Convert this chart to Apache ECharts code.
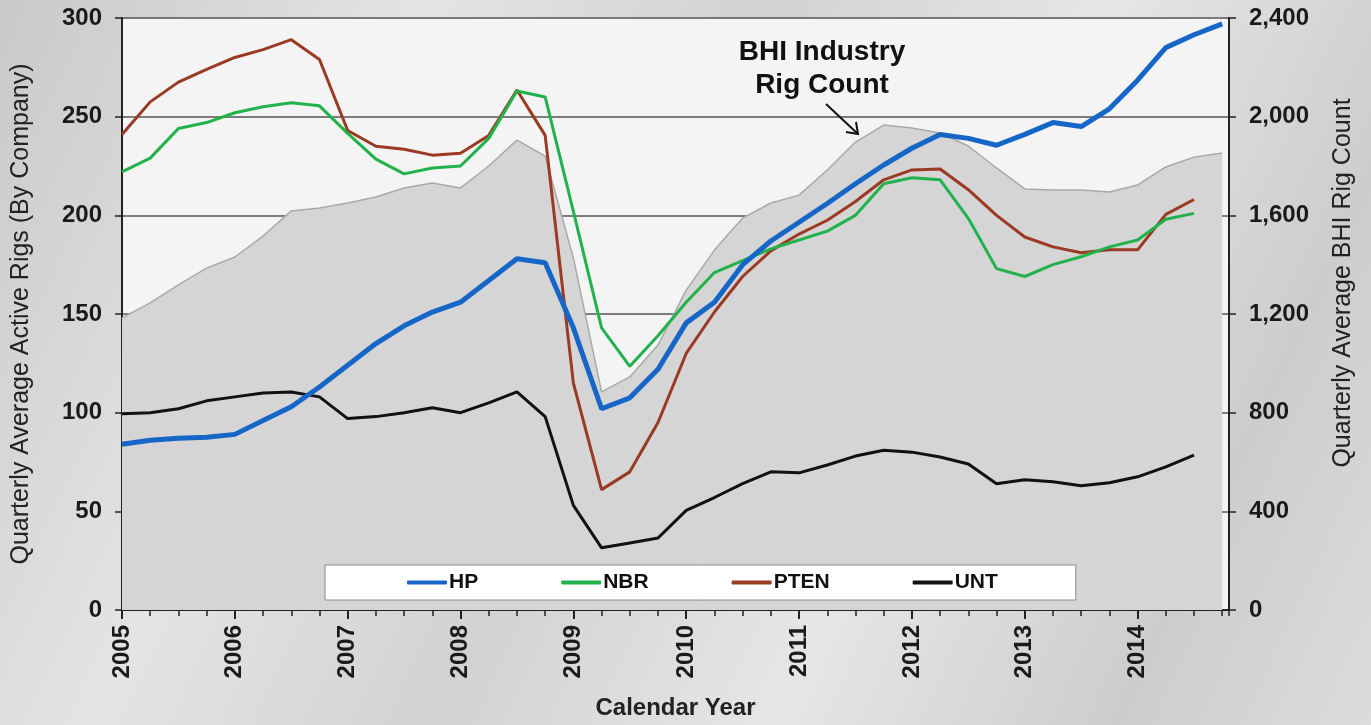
<!DOCTYPE html>
<html>
<head>
<meta charset="utf-8">
<script src="https://cdn.jsdelivr.net/npm/echarts@6/dist/echarts.min.js"></script>
<style>
  html, body { margin: 0; padding: 0; }
  body {
    width: 1371px; height: 725px; overflow: hidden;
    background: linear-gradient(115deg, #c9c9c9 0%, #e4e4e4 25%, #d2d2d2 45%, #e6e6e6 65%, #cdcdcd 85%, #dcdcdc 100%);
  }
  #chart { width: 1371px; height: 725px; }
</style>
</head>
<body>
<div id="chart"></div>
<script>
// quarterly points, 2005 Q1 .. 2014 Q4
const quarters = [];
for (let y = 2005; y <= 2014; y++) {
  quarters.push(y, y + 0.25, y + 0.5, y + 0.75);
}

// BHI industry rig count (right axis)
const bhi = [1184, 1245, 1318, 1386, 1431, 1516, 1618, 1630, 1650, 1674, 1711, 1731,
  1711, 1800, 1905, 1840, 1427, 884, 945, 1074, 1297, 1459, 1589, 1650,
  1682, 1784, 1897, 1966, 1954, 1934, 1881, 1792, 1707, 1703, 1703, 1695,
  1723, 1796, 1836, 1853];

// company rigs (left axis)
const hp = [84, 86, 87, 87.5, 89, 96, 103, 113, 124, 135, 144, 151,
  156, 167, 178, 176, 143, 102, 107.5, 122, 145.5, 156, 175, 187,
  196.5, 206, 216, 225.5, 234, 241, 239, 235.5, 241, 247, 245, 254,
  268.5, 285, 291.5, 297];
const nbr = [222, 229, 244, 247, 252, 255, 257, 255.5, 241.5, 228.5, 221, 224,
  225, 239, 263, 260, 202, 143, 123.5, 139, 156, 171, 177, 183,
  187.5, 192, 200, 216, 219, 218, 198.5, 173, 169, 175, 179, 184,
  187.5, 198, 201, null];
const pten = [241, 257.5, 267.5, 274, 280, 284, 289, 279, 243, 235, 233.5, 230.5,
  231.5, 240.5, 263.5, 240.5, 115, 61, 70, 95, 130, 151, 169, 182,
  190.5, 197.5, 207, 218, 223, 223.5, 213, 200, 189, 184, 181, 182.5,
  182.5, 200.5, 208, null];
const unt = [99.5, 100, 102, 106, 108, 110, 110.5, 108, 97, 98, 100, 102.5,
  100, 105, 110.5, 98, 53, 31.5, 34, 36.5, 50.5, 57, 64, 70,
  69.5, 73.5, 78, 81, 80, 77.5, 74, 64, 66, 65, 63, 64.5,
  67.5, 72.5, 78.5, null];

const companyNames = ['HP', 'NBR', 'PTEN', 'UNT'];
const companyColors = ['#1666c8', '#22b24c', '#9b3a22', '#111111'];
const companyWidths = [5, 3, 3, 3];

const pairs = arr => arr.map((v, i) => [quarters[i], v]);

const FONT = '"Liberation Sans", Arial, sans-serif';
const chart = echarts.init(document.getElementById('chart'), null, { renderer: 'canvas' });

const companySeries = [hp, nbr, pten, unt].map((arr, k) => ({
  name: companyNames[k],
  type: 'line',
  yAxisIndex: 0,
  data: pairs(arr),
  showSymbol: false,
  symbol: 'none',
  lineStyle: { color: companyColors[k], width: companyWidths[k] },
  itemStyle: { color: companyColors[k] },
  z: 10 - k
}));

const tickStyle = { color: '#1a1a1a', fontSize: 24, fontWeight: 'bold', fontFamily: FONT };

const option = {
  backgroundColor: 'transparent',
  animation: false,
  textStyle: { fontFamily: FONT },
  grid: {
    left: 122, right: 142, top: 18, bottom: 115,
    show: true,
    backgroundColor: '#f4f4f4',
    borderWidth: 0
  },
  legend: {
    data: companyNames.map((n, k) => ({
      name: n,
      icon: 'roundRect',
      itemStyle: { color: companyColors[k] }
    })),
    left: 325, top: 565,
    itemWidth: 40, itemHeight: 4,
    itemGap: 83,
    padding: [7, 78, 7, 82],
    backgroundColor: '#ffffff',
    borderColor: '#8a8a8a', borderWidth: 1,
    textStyle: { color: '#111', fontSize: 21, fontWeight: 'bold', fontFamily: FONT, padding: [0, 0, 0, -3] },
    selectedMode: false
  },
  xAxis: [
    {
      type: 'value', min: 2005, max: 2014.81, interval: 1,
      name: 'Calendar Year', nameLocation: 'middle', nameGap: 86,
      nameTextStyle: { color: '#222', fontSize: 24, fontWeight: 'bold', fontFamily: FONT },
      axisLine: { show: true, onZero: false, lineStyle: { color: '#222', width: 2 } },
      axisTick: { show: true, length: 9, lineStyle: { color: '#222', width: 2 } },
      axisLabel: Object.assign({
        rotate: 90, margin: 15,
        showMaxLabel: false,
        formatter: v => (Number.isInteger(v) ? String(v) : '')
      }, tickStyle),
      splitLine: { show: false }
    },
    {
      type: 'value', min: 2005, max: 2014.81, interval: 0.25, position: 'bottom',
      axisLine: { show: false },
      axisTick: { show: true, length: 6, lineStyle: { color: '#222', width: 1.5 } },
      axisLabel: { show: false },
      splitLine: { show: false }
    },
    {
      // upper half of the year ticks, crossing the axis line
      type: 'value', min: 2005, max: 2014.81, interval: 1, position: 'bottom',
      axisLine: { show: false },
      axisTick: { show: true, inside: true, length: 6, lineStyle: { color: '#222', width: 2 } },
      axisLabel: { show: false },
      splitLine: { show: false }
    }
  ],
  yAxis: [
    {
      type: 'value', min: 0, max: 300, interval: 50,
      name: 'Quarterly Average Active Rigs (By Company)',
      nameLocation: 'middle', nameGap: 88,
      nameTextStyle: { color: '#222', fontSize: 25, fontFamily: FONT },
      axisLine: { show: true, lineStyle: { color: '#222', width: 2 } },
      axisTick: { show: true, length: 7, lineStyle: { color: '#222', width: 1.5 } },
      axisLabel: Object.assign({ margin: 20 }, tickStyle),
      splitLine: { show: true, lineStyle: { color: '#555', width: 1.5 } }
    },
    {
      type: 'value', min: 0, max: 2400, interval: 400, position: 'right',
      axisLine: { show: true, lineStyle: { color: '#222', width: 2 } },
      axisTick: { show: true, length: 7, lineStyle: { color: '#222', width: 1.5 } },
      axisLabel: Object.assign({
        margin: 20,
        formatter: v => v.toLocaleString('en-US')
      }, tickStyle),
      splitLine: { show: false }
    }
  ],
  graphic: [
    {
      type: 'text', x: 1343, y: 283, rotation: Math.PI / 2, z: 20,
      style: {
        text: 'Quarterly Average BHI Rig Count', fill: '#222', font: '25px ' + FONT,
        align: 'center', verticalAlign: 'middle'
      }
    },
    {
      type: 'text', x: 822, y: 36, z: 20,
      style: {
        text: 'BHI Industry\nRig Count', fill: '#111', font: 'bold 28px ' + FONT,
        align: 'center', verticalAlign: 'top', lineHeight: 33
      }
    },
    {
      type: 'line', z: 20,
      shape: { x1: 826, y1: 104, x2: 858, y2: 134 },
      style: { stroke: '#111', lineWidth: 2 }
    },
    {
      type: 'polyline', z: 20,
      shape: { points: [[846, 132], [858, 134], [856, 122]] },
      style: { stroke: '#111', lineWidth: 2, fill: null }
    }
  ],
  series: [
    {
      name: 'BHI',
      type: 'line',
      yAxisIndex: 1,
      data: pairs(bhi),
      showSymbol: false,
      symbol: 'none',
      lineStyle: { color: '#a9a9a9', width: 1.5 },
      areaStyle: { color: '#d5d5d5', opacity: 1 },
      z: 1
    }
  ].concat(companySeries)
};

chart.setOption(option);
</script>
</body>
</html>
